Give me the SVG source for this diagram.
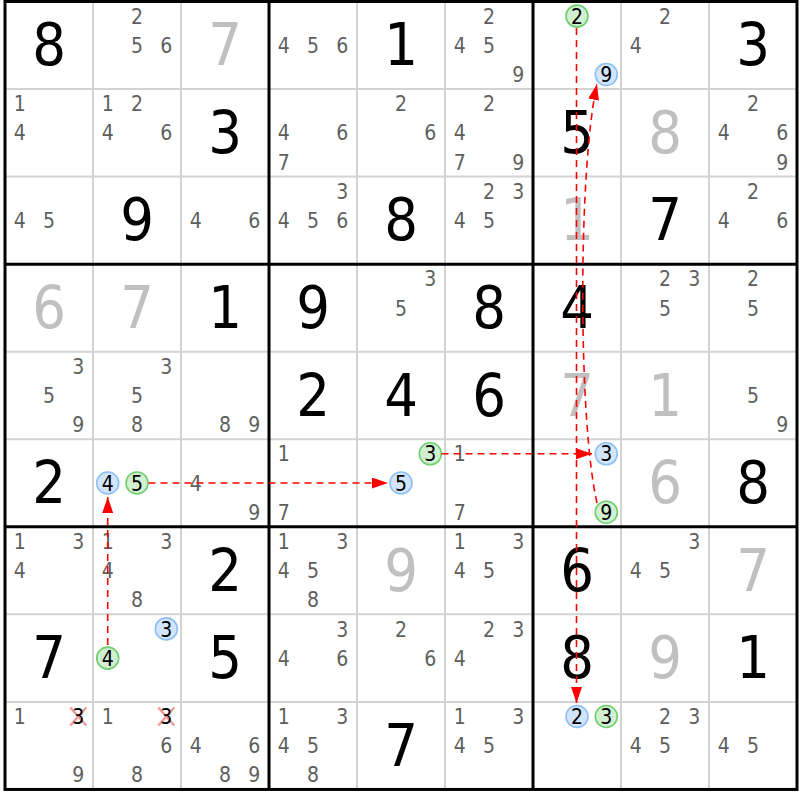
<svg xmlns="http://www.w3.org/2000/svg" width="800" height="800" viewBox="0 0 800 800">
<style>
text{font-family:"DejaVu Sans Condensed","DejaVu Sans","Liberation Sans",sans-serif;text-anchor:middle}
.p{font-size:21px;fill:#5f5f5f}
.b{font-size:59px;fill:#000}
.s{font-size:59px;fill:#c0c0c0}
.k{font-size:21px;fill:#000}
.cb{fill:#d2e5fc;stroke:#8cbff5;stroke-width:1.6}
.cg{fill:#d2efd2;stroke:#6fcf6f;stroke-width:1.6}
.thin{stroke:#d3d3d3;stroke-width:2}
.thick{stroke:#000;stroke-width:3}
.x{stroke:#f39a9a;stroke-width:2.5}
.link{fill:none;stroke:#ff0000;stroke-width:1.6;stroke-dasharray:7 5}
</style>
<defs>
<marker id="arr" viewBox="0 0 16 11" refX="16" refY="5.5" markerWidth="16" markerHeight="11" markerUnits="userSpaceOnUse" orient="auto"><path d="M0,0 L16,5.5 L0,11 z" fill="#ff0000" stroke="none"/></marker>
</defs>
<rect x="0" y="0" width="800" height="800" fill="#fff"/>
<g id="grid">
<path class="thin" d="M93,1.5V789.45M181,1.5V789.45M357,1.5V789.45M445,1.5V789.45M621,1.5V789.45M709,1.5V789.45M5,89.05H797M5,176.6H797M5,351.7H797M5,439.25H797M5,614.35H797M5,701.9H797"/>
<path class="thick" d="M269,1.5V789.45M533,1.5V789.45M5,264.15H797M5,526.8H797"/>
<rect class="thick" x="5" y="1.5" width="792" height="787.95" fill="none"/>
</g>
<!-- row 0 -->
<g id="r0c0" transform="translate(49,45.3)"><text class="b" y="20">8</text></g>
<g id="r0c1" transform="translate(137,45.3)"><text class="p" y="-21.6">2</text><text class="p" y="7.6">5</text><text class="p" x="29.3" y="7.6">6</text></g>
<g id="r0c2" transform="translate(225,45.3)"><text class="s" y="20">7</text></g>
<g id="r0c3" transform="translate(313,45.3)"><text class="p" x="-29.3" y="7.6">4</text><text class="p" y="7.6">5</text><text class="p" x="29.3" y="7.6">6</text></g>
<g id="r0c4" transform="translate(401,45.3)"><text class="b" y="20">1</text></g>
<g id="r0c5" transform="translate(489,45.3)"><text class="p" y="-21.6">2</text><text class="p" x="-29.3" y="7.6">4</text><text class="p" y="7.6">5</text><text class="p" x="29.3" y="36.8">9</text></g>
<g id="r0c6" transform="translate(577,45.3)"><circle class="cg" cx="0" cy="-29.2" r="11"/><text class="k" y="-21.6">2</text><circle class="cb" cx="29.3" cy="29.2" r="11"/><text class="k" x="29.3" y="36.8">9</text></g>
<g id="r0c7" transform="translate(665,45.3)"><text class="p" y="-21.6">2</text><text class="p" x="-29.3" y="7.6">4</text></g>
<g id="r0c8" transform="translate(753,45.3)"><text class="b" y="20">3</text></g>
<!-- row 1 -->
<g id="r1c0" transform="translate(49,132.8)"><text class="p" x="-29.3" y="-21.6">1</text><text class="p" x="-29.3" y="7.6">4</text></g>
<g id="r1c1" transform="translate(137,132.8)"><text class="p" x="-29.3" y="-21.6">1</text><text class="p" y="-21.6">2</text><text class="p" x="-29.3" y="7.6">4</text><text class="p" x="29.3" y="7.6">6</text></g>
<g id="r1c2" transform="translate(225,132.8)"><text class="b" y="20">3</text></g>
<g id="r1c3" transform="translate(313,132.8)"><text class="p" x="-29.3" y="7.6">4</text><text class="p" x="29.3" y="7.6">6</text><text class="p" x="-29.3" y="36.8">7</text></g>
<g id="r1c4" transform="translate(401,132.8)"><text class="p" y="-21.6">2</text><text class="p" x="29.3" y="7.6">6</text></g>
<g id="r1c5" transform="translate(489,132.8)"><text class="p" y="-21.6">2</text><text class="p" x="-29.3" y="7.6">4</text><text class="p" x="-29.3" y="36.8">7</text><text class="p" x="29.3" y="36.8">9</text></g>
<g id="r1c6" transform="translate(577,132.8)"><text class="b" y="20">5</text></g>
<g id="r1c7" transform="translate(665,132.8)"><text class="s" y="20">8</text></g>
<g id="r1c8" transform="translate(753,132.8)"><text class="p" y="-21.6">2</text><text class="p" x="-29.3" y="7.6">4</text><text class="p" x="29.3" y="7.6">6</text><text class="p" x="29.3" y="36.8">9</text></g>
<!-- row 2 -->
<g id="r2c0" transform="translate(49,220.4)"><text class="p" x="-29.3" y="7.6">4</text><text class="p" y="7.6">5</text></g>
<g id="r2c1" transform="translate(137,220.4)"><text class="b" y="20">9</text></g>
<g id="r2c2" transform="translate(225,220.4)"><text class="p" x="-29.3" y="7.6">4</text><text class="p" x="29.3" y="7.6">6</text></g>
<g id="r2c3" transform="translate(313,220.4)"><text class="p" x="29.3" y="-21.6">3</text><text class="p" x="-29.3" y="7.6">4</text><text class="p" y="7.6">5</text><text class="p" x="29.3" y="7.6">6</text></g>
<g id="r2c4" transform="translate(401,220.4)"><text class="b" y="20">8</text></g>
<g id="r2c5" transform="translate(489,220.4)"><text class="p" y="-21.6">2</text><text class="p" x="29.3" y="-21.6">3</text><text class="p" x="-29.3" y="7.6">4</text><text class="p" y="7.6">5</text></g>
<g id="r2c6" transform="translate(577,220.4)"><text class="s" y="20">1</text></g>
<g id="r2c7" transform="translate(665,220.4)"><text class="b" y="20">7</text></g>
<g id="r2c8" transform="translate(753,220.4)"><text class="p" y="-21.6">2</text><text class="p" x="-29.3" y="7.6">4</text><text class="p" x="29.3" y="7.6">6</text></g>
<!-- row 3 -->
<g id="r3c0" transform="translate(49,307.9)"><text class="s" y="20">6</text></g>
<g id="r3c1" transform="translate(137,307.9)"><text class="s" y="20">7</text></g>
<g id="r3c2" transform="translate(225,307.9)"><text class="b" y="20">1</text></g>
<g id="r3c3" transform="translate(313,307.9)"><text class="b" y="20">9</text></g>
<g id="r3c4" transform="translate(401,307.9)"><text class="p" x="29.3" y="-21.6">3</text><text class="p" y="7.6">5</text></g>
<g id="r3c5" transform="translate(489,307.9)"><text class="b" y="20">8</text></g>
<g id="r3c6" transform="translate(577,307.9)"><text class="b" y="20">4</text></g>
<g id="r3c7" transform="translate(665,307.9)"><text class="p" y="-21.6">2</text><text class="p" x="29.3" y="-21.6">3</text><text class="p" y="7.6">5</text></g>
<g id="r3c8" transform="translate(753,307.9)"><text class="p" y="-21.6">2</text><text class="p" y="7.6">5</text></g>
<!-- row 4 -->
<g id="r4c0" transform="translate(49,395.5)"><text class="p" x="29.3" y="-21.6">3</text><text class="p" y="7.6">5</text><text class="p" x="29.3" y="36.8">9</text></g>
<g id="r4c1" transform="translate(137,395.5)"><text class="p" x="29.3" y="-21.6">3</text><text class="p" y="7.6">5</text><text class="p" y="36.8">8</text></g>
<g id="r4c2" transform="translate(225,395.5)"><text class="p" y="36.8">8</text><text class="p" x="29.3" y="36.8">9</text></g>
<g id="r4c3" transform="translate(313,395.5)"><text class="b" y="20">2</text></g>
<g id="r4c4" transform="translate(401,395.5)"><text class="b" y="20">4</text></g>
<g id="r4c5" transform="translate(489,395.5)"><text class="b" y="20">6</text></g>
<g id="r4c6" transform="translate(577,395.5)"><text class="s" y="20">7</text></g>
<g id="r4c7" transform="translate(665,395.5)"><text class="s" y="20">1</text></g>
<g id="r4c8" transform="translate(753,395.5)"><text class="p" y="7.6">5</text><text class="p" x="29.3" y="36.8">9</text></g>
<!-- row 5 -->
<g id="r5c0" transform="translate(49,483)"><text class="b" y="20">2</text></g>
<g id="r5c1" transform="translate(137,483)"><circle class="cb" cx="-29.3" cy="0" r="11"/><text class="k" x="-29.3" y="7.6">4</text><circle class="cg" cx="0" cy="0" r="11"/><text class="k" y="7.6">5</text></g>
<g id="r5c2" transform="translate(225,483)"><text class="p" x="-29.3" y="7.6">4</text><text class="p" x="29.3" y="36.8">9</text></g>
<g id="r5c3" transform="translate(313,483)"><text class="p" x="-29.3" y="-21.6">1</text><text class="p" x="-29.3" y="36.8">7</text></g>
<g id="r5c4" transform="translate(401,483)"><circle class="cg" cx="29.3" cy="-29.2" r="11"/><text class="k" x="29.3" y="-21.6">3</text><circle class="cb" cx="0" cy="0" r="11"/><text class="k" y="7.6">5</text></g>
<g id="r5c5" transform="translate(489,483)"><text class="p" x="-29.3" y="-21.6">1</text><text class="p" x="-29.3" y="36.8">7</text></g>
<g id="r5c6" transform="translate(577,483)"><circle class="cb" cx="29.3" cy="-29.2" r="11"/><text class="k" x="29.3" y="-21.6">3</text><circle class="cg" cx="29.3" cy="29.2" r="11"/><text class="k" x="29.3" y="36.8">9</text></g>
<g id="r5c7" transform="translate(665,483)"><text class="s" y="20">6</text></g>
<g id="r5c8" transform="translate(753,483)"><text class="b" y="20">8</text></g>
<!-- row 6 -->
<g id="r6c0" transform="translate(49,570.6)"><text class="p" x="-29.3" y="-21.6">1</text><text class="p" x="29.3" y="-21.6">3</text><text class="p" x="-29.3" y="7.6">4</text></g>
<g id="r6c1" transform="translate(137,570.6)"><text class="p" x="-29.3" y="-21.6">1</text><text class="p" x="29.3" y="-21.6">3</text><text class="p" x="-29.3" y="7.6">4</text><text class="p" y="36.8">8</text></g>
<g id="r6c2" transform="translate(225,570.6)"><text class="b" y="20">2</text></g>
<g id="r6c3" transform="translate(313,570.6)"><text class="p" x="-29.3" y="-21.6">1</text><text class="p" x="29.3" y="-21.6">3</text><text class="p" x="-29.3" y="7.6">4</text><text class="p" y="7.6">5</text><text class="p" y="36.8">8</text></g>
<g id="r6c4" transform="translate(401,570.6)"><text class="s" y="20">9</text></g>
<g id="r6c5" transform="translate(489,570.6)"><text class="p" x="-29.3" y="-21.6">1</text><text class="p" x="29.3" y="-21.6">3</text><text class="p" x="-29.3" y="7.6">4</text><text class="p" y="7.6">5</text></g>
<g id="r6c6" transform="translate(577,570.6)"><text class="b" y="20">6</text></g>
<g id="r6c7" transform="translate(665,570.6)"><text class="p" x="29.3" y="-21.6">3</text><text class="p" x="-29.3" y="7.6">4</text><text class="p" y="7.6">5</text></g>
<g id="r6c8" transform="translate(753,570.6)"><text class="s" y="20">7</text></g>
<!-- row 7 -->
<g id="r7c0" transform="translate(49,658.1)"><text class="b" y="20">7</text></g>
<g id="r7c1" transform="translate(137,658.1)"><circle class="cb" cx="29.3" cy="-29.2" r="11"/><text class="k" x="29.3" y="-21.6">3</text><circle class="cg" cx="-29.3" cy="0" r="11"/><text class="k" x="-29.3" y="7.6">4</text></g>
<g id="r7c2" transform="translate(225,658.1)"><text class="b" y="20">5</text></g>
<g id="r7c3" transform="translate(313,658.1)"><text class="p" x="29.3" y="-21.6">3</text><text class="p" x="-29.3" y="7.6">4</text><text class="p" x="29.3" y="7.6">6</text></g>
<g id="r7c4" transform="translate(401,658.1)"><text class="p" y="-21.6">2</text><text class="p" x="29.3" y="7.6">6</text></g>
<g id="r7c5" transform="translate(489,658.1)"><text class="p" y="-21.6">2</text><text class="p" x="29.3" y="-21.6">3</text><text class="p" x="-29.3" y="7.6">4</text></g>
<g id="r7c6" transform="translate(577,658.1)"><text class="b" y="20">8</text></g>
<g id="r7c7" transform="translate(665,658.1)"><text class="s" y="20">9</text></g>
<g id="r7c8" transform="translate(753,658.1)"><text class="b" y="20">1</text></g>
<!-- row 8 -->
<g id="r8c0" transform="translate(49,745.7)"><text class="p" x="-29.3" y="-21.6">1</text><path class="x" d="M21.3,-38.2L37.3,-20.2M21.3,-20.2L37.3,-38.2"/><text class="k" x="29.3" y="-21.6">3</text><text class="p" x="29.3" y="36.8">9</text></g>
<g id="r8c1" transform="translate(137,745.7)"><text class="p" x="-29.3" y="-21.6">1</text><path class="x" d="M21.3,-38.2L37.3,-20.2M21.3,-20.2L37.3,-38.2"/><text class="k" x="29.3" y="-21.6">3</text><text class="p" x="29.3" y="7.6">6</text><text class="p" y="36.8">8</text></g>
<g id="r8c2" transform="translate(225,745.7)"><text class="p" x="-29.3" y="7.6">4</text><text class="p" x="29.3" y="7.6">6</text><text class="p" y="36.8">8</text><text class="p" x="29.3" y="36.8">9</text></g>
<g id="r8c3" transform="translate(313,745.7)"><text class="p" x="-29.3" y="-21.6">1</text><text class="p" x="29.3" y="-21.6">3</text><text class="p" x="-29.3" y="7.6">4</text><text class="p" y="7.6">5</text><text class="p" y="36.8">8</text></g>
<g id="r8c4" transform="translate(401,745.7)"><text class="b" y="20">7</text></g>
<g id="r8c5" transform="translate(489,745.7)"><text class="p" x="-29.3" y="-21.6">1</text><text class="p" x="29.3" y="-21.6">3</text><text class="p" x="-29.3" y="7.6">4</text><text class="p" y="7.6">5</text></g>
<g id="r8c6" transform="translate(577,745.7)"><circle class="cb" cx="0" cy="-29.2" r="11"/><text class="k" y="-21.6">2</text><circle class="cg" cx="29.3" cy="-29.2" r="11"/><text class="k" x="29.3" y="-21.6">3</text></g>
<g id="r8c7" transform="translate(665,745.7)"><text class="p" y="-21.6">2</text><text class="p" x="29.3" y="-21.6">3</text><text class="p" x="-29.3" y="7.6">4</text><text class="p" y="7.6">5</text></g>
<g id="r8c8" transform="translate(753,745.7)"><text class="p" x="-29.3" y="7.6">4</text><text class="p" y="7.6">5</text></g>
<g id="connectors">
<path class="link" d="M576.5,28 L576.5,703" marker-end="url(#arr)"/>
<path class="link" d="M597,503 C578,420 578,170 597,84" marker-end="url(#arr)"/>
<path class="link" d="M441.5,453.8 L592,453.8" marker-end="url(#arr)"/>
<path class="link" d="M148.5,483 L388,483" marker-end="url(#arr)"/>
<path class="link" d="M107.7,645 L107.7,497" marker-end="url(#arr)"/>
</g>
</svg>
